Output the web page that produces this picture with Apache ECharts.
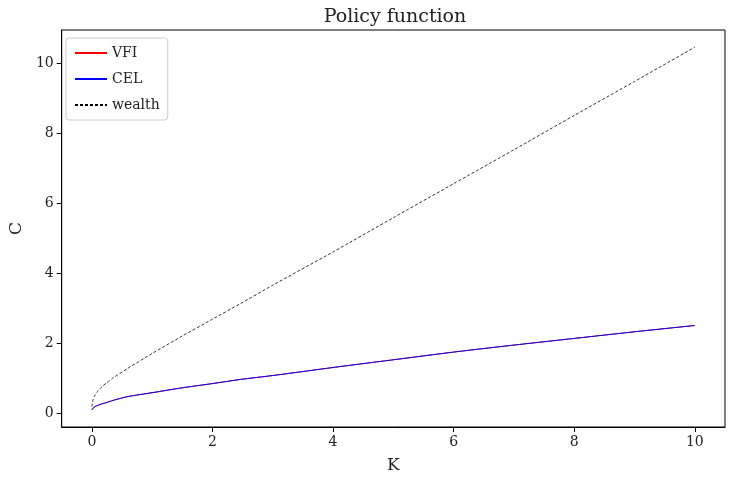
<!DOCTYPE html>
<html>
<head>
<meta charset="UTF-8">
<script src="https://cdn.jsdelivr.net/npm/echarts@6/dist/echarts.min.js"></script>
</head>
<body style="margin:0">
<div id="main" style="width:732px;height:479px;"></div>
<script>
  const kGrid = [0, 0.02, 0.05, 0.1, 0.165, 0.25, 0.35, 0.6, 1, 1.5, 2, 2.47, 3, 4, 5, 6, 7, 8, 9, 10];
  const wealth = [0.18, 0.38, 0.5, 0.63, 0.75, 0.87, 1.0, 1.28, 1.7, 2.2, 2.68, 3.13, 3.65, 4.6, 5.58, 6.55, 7.52, 8.5, 9.47, 10.45];
  const consVFI = [0.09, 0.14, 0.18, 0.22, 0.26, 0.3, 0.36, 0.47, 0.58, 0.72, 0.84, 0.96, 1.07, 1.3, 1.52, 1.74, 1.94, 2.13, 2.32, 2.5];
  const consCEL = consVFI.slice();
  const tickVals = [0, 2, 4, 6, 8, 10];
  const font = 'DejaVu Serif';
  const pairs = (ys) => kGrid.map((k, i) => [k, ys[i]]);
  const myChart = echarts.init(document.getElementById('main'));
  const axisCommon = {
    axisLine: {onZero: false, lineStyle: {color: '#000'}},
    axisTick: {inside: false, length: 5, lineStyle: {color: '#000'}, customValues: tickVals},
    axisLabel: {color: '#222', fontFamily: font, fontSize: 14, customValues: tickVals},
    splitLine: {show: false},
    nameTextStyle: {color: '#222', fontFamily: font, fontSize: 17}
  };
  myChart.setOption({
    animation: false,
    title: {text: 'Policy function', left: 390, top: 3, textAlign: 'center',
      textStyle: {fontFamily: font, fontWeight: 'normal', fontSize: 19, color: '#222'}},
    grid: {left: 57, right: 7, top: 30, bottom: 52, show: true, borderColor: '#000', borderWidth: 1},
    legend: {
      orient: 'vertical', left: 66, top: 38, itemWidth: 32, itemHeight: 2, itemGap: 12,
      borderColor: '#ccc', borderWidth: 1, borderRadius: 3, padding: [8, 8, 8, 8],
      textStyle: {fontFamily: font, fontSize: 14, color: '#222'},
      data: ['VFI', 'CEL', 'wealth']
    },
    xAxis: Object.assign({}, axisCommon, {type: 'value', min: -0.5, max: 10.5,
      name: 'K', nameLocation: 'middle', nameGap: 30}),
    yAxis: Object.assign({}, axisCommon, {type: 'value', min: -0.4, max: 10.94,
      name: 'C', nameLocation: 'middle', nameGap: 30}),
    series: [
      {name: 'VFI', type: 'line', data: pairs(consVFI), symbol: 'none', smooth: 0.2,
        lineStyle: {color: 'red', width: 1}, itemStyle: {color: 'red'}},
      {name: 'CEL', type: 'line', data: pairs(consCEL), symbol: 'none', smooth: 0.2,
        lineStyle: {color: 'blue', width: 1}, itemStyle: {color: 'blue'}},
      {name: 'wealth', type: 'line', data: pairs(wealth), symbol: 'none', smooth: 0.2,
        lineStyle: {color: '#000', width: 0.8, type: [3, 2]}, itemStyle: {color: '#000'}}
    ]
  });
</script>
</body>
</html>
